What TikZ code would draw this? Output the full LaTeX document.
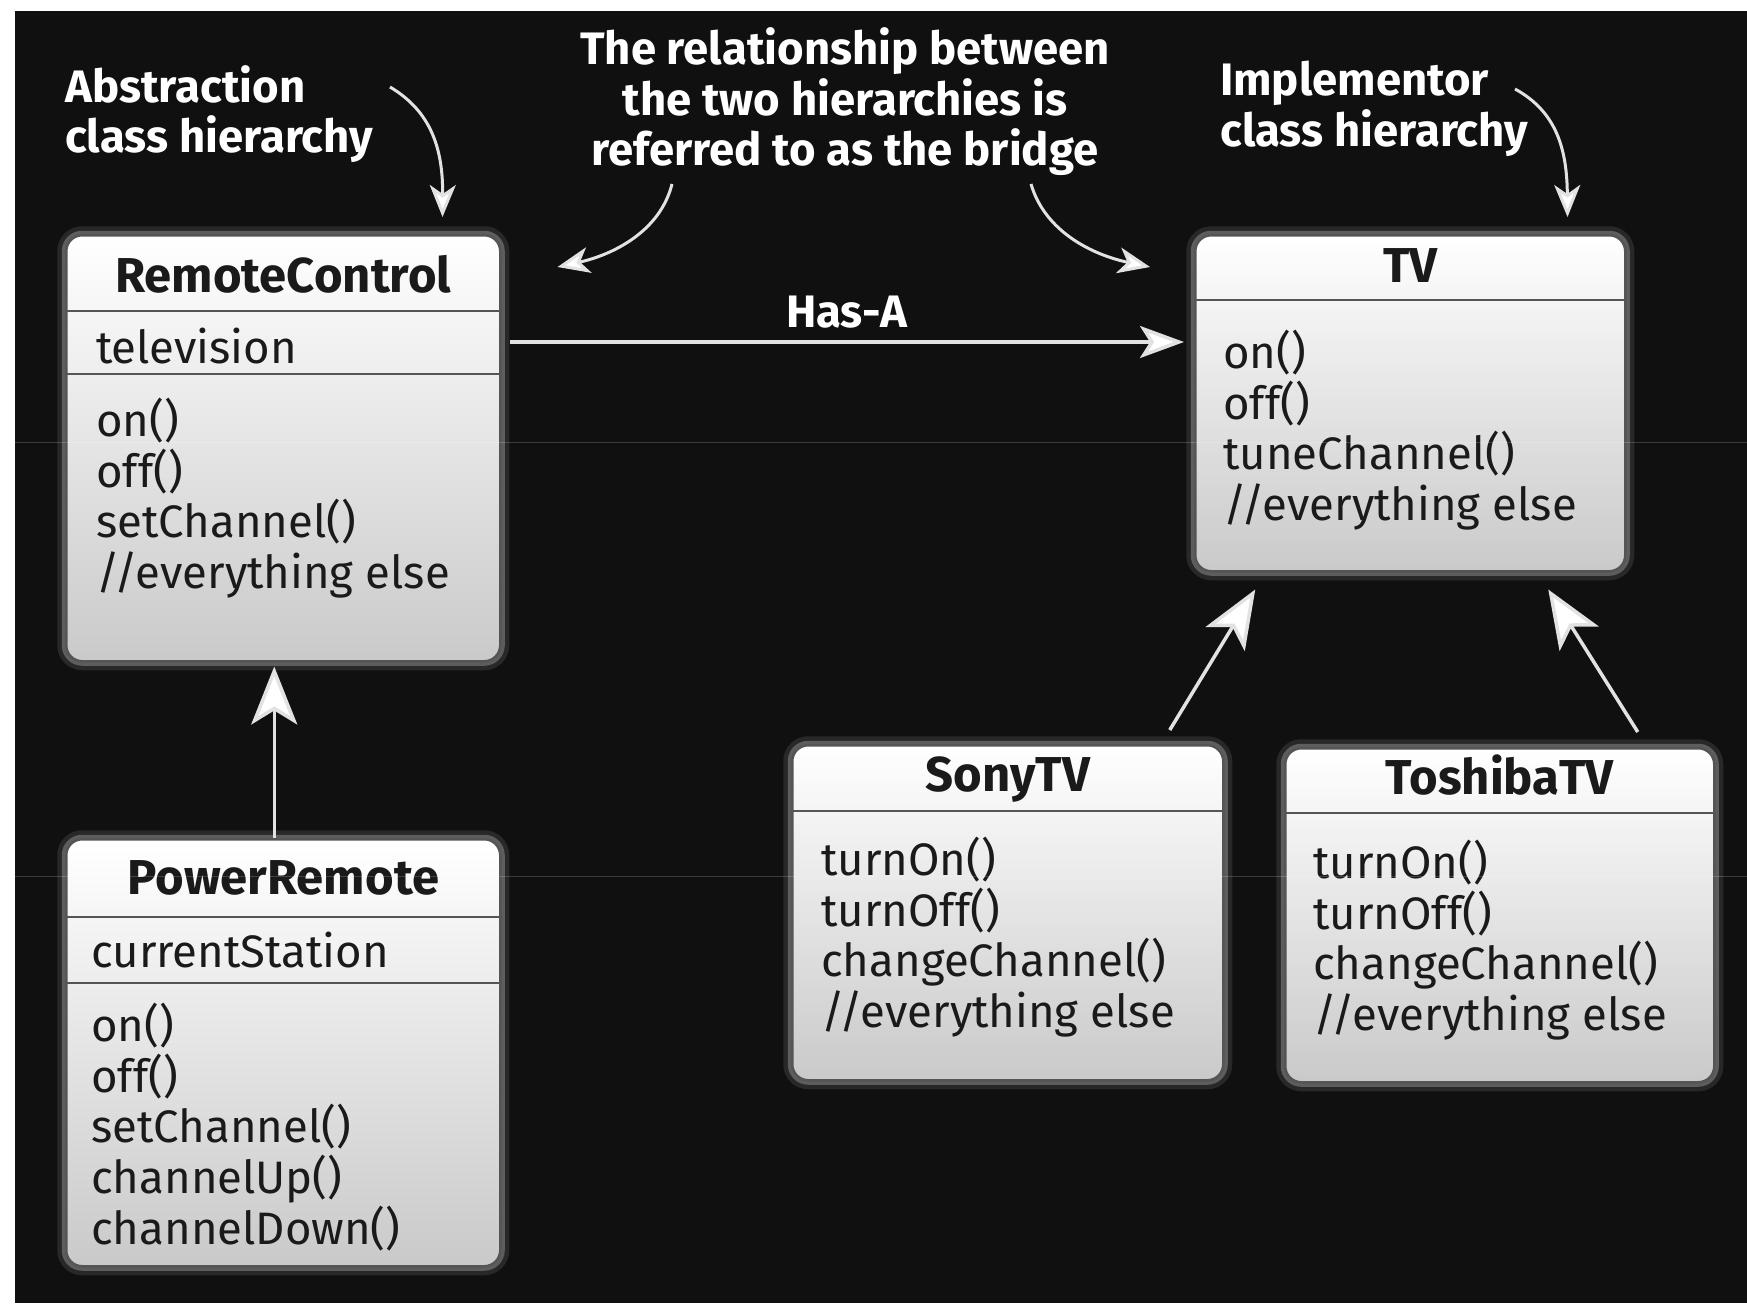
\documentclass[tikz,border=0pt]{standalone}
\usepackage{fontspec}
\setmainfont{Fira Sans}
\usetikzlibrary{arrows.meta,calc}
\definecolor{bg}{HTML}{101010}
\definecolor{boxline}{HTML}{555555}
\definecolor{conn}{HTML}{e2e2e2}
\definecolor{txt}{HTML}{1a1a1a}
\begin{document}
\begin{tikzpicture}[x=1pt,y=-1pt,
  cls/.style={rectangle, rounded corners=16pt, top color=white, bottom color=gray!42,
    draw=boxline, line width=2.5pt, anchor=north west, inner sep=0pt,
    preaction={draw=white, draw opacity=.10, line width=18pt},
    preaction={draw=white, draw opacity=.25, line width=9pt}},
  ttl/.style={font=\bfseries\fontsize{49}{56}\selectfont, text=txt, inner sep=0pt, anchor=base},
  mem/.style={font=\fontsize{45.5}{50.7}\selectfont, text=txt, inner sep=0pt, anchor=west, align=left},
  ann/.style={font=\bfseries\fontsize{45.5}{50.5}\selectfont, text=white, inner sep=0pt},
  div/.style={draw=boxline, line width=2.5pt},
  inh/.style={draw=conn, line width=3.5pt, -{Stealth[length=58pt,width=46pt,inset=14pt,fill=white]}},
  hasa/.style={draw=conn, line width=3.5pt, -{Stealth[length=44pt,width=32pt,inset=10pt,fill=white]}},
  note/.style={draw=conn, line width=3pt, -{Stealth[length=32pt,width=26pt,inset=9pt,fill=white]}}
]
\useasboundingbox (0,0) rectangle (1747,1303);
\fill[white] (0,0) rectangle (1747,1303);
\fill[bg] (15,11) rectangle (1747,1303);

% class boxes
\node[cls, minimum width=434pt, minimum height=426pt] (rc) at (65,234) {};
\node[cls, minimum width=434pt, minimum height=427pt] (pr) at (65,838) {};
\node[cls, minimum width=430pt, minimum height=336pt] (tv) at (1194,234) {};
\node[cls, minimum width=431pt, minimum height=335pt] (sony) at (791,744) {};
\node[cls, minimum width=429pt, minimum height=334pt] (tosh) at (1284,747) {};

% dividers
\draw[div] ($(rc.north west)+(0,77)$) -- ($(rc.north east)+(0,77)$);
\draw[div] ($(rc.north west)+(0,140)$) -- ($(rc.north east)+(0,140)$);
\draw[div] ($(pr.north west)+(0,79)$) -- ($(pr.north east)+(0,79)$);
\draw[div] ($(pr.north west)+(0,145)$) -- ($(pr.north east)+(0,145)$);
\draw[div] ($(tv.north west)+(0,66)$) -- ($(tv.north east)+(0,66)$);
\draw[div] ($(sony.north west)+(0,67)$) -- ($(sony.north east)+(0,67)$);
\draw[div] ($(tosh.north west)+(0,66)$) -- ($(tosh.north east)+(0,66)$);

% RemoteControl
\node[ttl] (rcT) at ($(rc.north)+(0,58)$) {RemoteControl};
\node[mem] (rcA) at ($(rc.north west)+(31,112)$) {television};
\node[mem] (rcM) at ($(rc.north west)+(31,264)$) {on()\\off()\\setChannel()\\//everything else};

% PowerRemote
\node[ttl] (prT) at ($(pr.north)+(0,56)$) {PowerRemote};
\node[mem] (prA) at ($(pr.north west)+(26,112)$) {currentStation};
\node[mem] (prM) at ($(pr.north west)+(26,289)$) {on()\\off()\\setChannel()\\channelUp()\\channelDown()};

% TV
\node[ttl] (tvT) at ($(tv.north)+(0,48)$) {TV};
\node[mem] (tvM) at ($(tv.north west)+(29,196)$) {on()\\off()\\tuneChannel()\\//everything else};

% SonyTV
\node[ttl] (sonyT) at ($(sony.north)+(0,47)$) {SonyTV};
\node[mem] (sonyM) at ($(sony.north west)+(30,193)$) {turnOn()\\turnOff()\\changeChannel()\\//everything else};

% ToshibaTV
\node[ttl] (toshT) at ($(tosh.north)+(0,47)$) {ToshibaTV};
\node[mem] (toshM) at ($(tosh.north west)+(29,193)$) {turnOn()\\turnOff()\\changeChannel()\\//everything else};

% relations
\draw[inh] ($(pr.north)+(-9,0)$) -- ($(rc.south)+(-9,4)$);
\draw[inh] ($(sony.north)+(162,-14)$) -- ($(tv.south)+(-155,17)$);
\draw[inh] ($(tosh.north)+(138,-15)$) -- ($(tv.south)+(138,17)$);
\draw[hasa] ($(rc.north east)+(8,108)$) -- node[ann, above=12pt] (hasaT) {Has-A} ($(tv.north west)+(-10,108)$);

% annotations
\node[ann, anchor=west, align=left] (absT) at (65,114) {Abstraction\\class hierarchy};
\node[ann, align=center] (brT) at (845,102) {The relationship between\\the two hierarchies is\\referred to as the bridge};
\node[ann, anchor=west, align=left] (impT) at (1220,109) {Implementor\\class hierarchy};

\coordinate (absS) at (390,87);
\coordinate (brL) at (672,184);
\coordinate (brR) at (1031,184);
\coordinate (impS) at (1515,89);
\draw[note] (absS) .. controls (432,112) and (443,150) .. ($(rc.north east)+(-59,-17)$);
\draw[note] (brL) .. controls (660,232) and (612,255) .. ($(rc.north east)+(56,33)$);
\draw[note] (brR) .. controls (1045,232) and (1093,255) .. ($(tv.north west)+(-44,33)$);
\draw[note] (impS) .. controls (1557,112) and (1567,150) .. ($(tv.north east)+(-59,-17)$);

% faint scan lines
\draw[white, opacity=.18, line width=1pt] (15,442) -- (1747,442);
\draw[white, opacity=.18, line width=1pt] (15,876) -- (1747,876);
\end{tikzpicture}
\end{document}
